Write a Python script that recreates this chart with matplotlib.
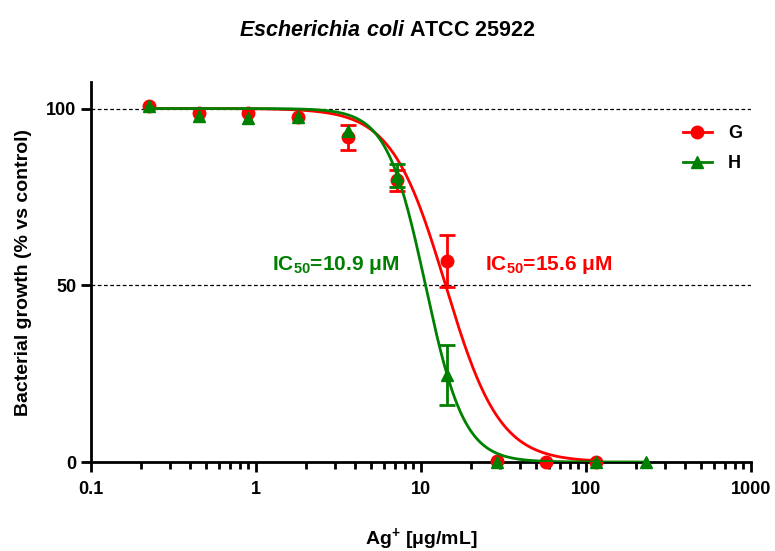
import numpy as np
import matplotlib
matplotlib.use("Agg")
import matplotlib.pyplot as plt
from matplotlib.ticker import LogLocator, FixedLocator, NullFormatter

plt.rcParams['font.family'] = ['Liberation Sans', 'DejaVu Sans']
plt.rcParams['font.weight'] = 'bold'
plt.rcParams['mathtext.fontset'] = 'custom'
plt.rcParams['mathtext.rm'] = 'Liberation Sans:bold'
plt.rcParams['mathtext.it'] = 'Liberation Sans:bold:italic'
plt.rcParams['mathtext.bf'] = 'Liberation Sans:bold'
plt.rcParams['mathtext.default'] = 'rm'

# concentrations (ug/mL)
conc_g = [0.225, 0.45, 0.9, 1.8, 3.6, 7.2, 14.4, 28.75, 57.5, 115]
conc_h = [0.225, 0.45, 0.9, 1.8, 3.6, 7.2, 14.4, 28.75, 115, 230]

growth_g = [100.8, 98.6, 98.6, 97.6, 91.8, 79.7, 56.8, 0.4, 0.0, 0.0]
err_g = [0.4, 0.4, 0.5, 0.4, 3.5, 3.0, 7.3, 0.3, 0.2, 0.2]
growth_h = [100.8, 98.0, 97.2, 97.7, 93.6, 81.0, 24.6, 0.0, 0.0, 0.0]
err_h = [0.3, 0.4, 0.5, 0.4, 1.0, 3.3, 8.5, 0.2, 0.2, 0.2]

# fitted dose-response parameters
ec50_g, hill_g = 14.1, 2.65
ec50_h, hill_h = 10.65, 3.7

red = '#ff0000'
green = '#008000'

fig = plt.figure(figsize=(7.75, 5.51), dpi=100)
ax = fig.add_axes([0.1174, 0.1615, 0.8516, 0.6897])


def curve(x, ec50, hill):
    return 100.0 / (1.0 + (x / ec50) ** hill)


def draw_series(x, y, e, color, marker, z):
    x, y, e = np.array(x), np.array(y), np.array(e)
    big = e > 1.5  # bars hidden behind the symbol are not drawn
    ax.errorbar(x[big], y[big], yerr=e[big], fmt='none', ecolor=color,
                capsize=6, capthick=2, elinewidth=2, zorder=z)
    ax.plot(x, y, ls='none', marker=marker, color=color, ms=9, zorder=z + 0.5,
            clip_on=False)


xg = np.logspace(np.log10(conc_g[0]), np.log10(conc_g[-1]), 400)
xh = np.logspace(np.log10(conc_h[0]), np.log10(conc_h[-1]), 400)

ax.axhline(100, color='black', ls=(0, (3, 2)), lw=0.9, zorder=1)
ax.axhline(50, color='black', ls=(0, (3, 2)), lw=0.9, zorder=1)

ax.plot(xg, curve(xg, ec50_g, hill_g), color=red, lw=2, zorder=2)
draw_series(conc_g, growth_g, err_g, red, 'o', 3)
ax.plot(xh, curve(xh, ec50_h, hill_h), color=green, lw=2, zorder=4)
draw_series(conc_h, growth_h, err_h, green, '^', 5)

h_g, = ax.plot([], [], color=red, marker='o', ms=9, lw=2, label='G')
h_h, = ax.plot([], [], color=green, marker='^', ms=9, lw=2, label='H')
ax.legend([h_g, h_h], ['G', 'H'], loc='upper left',
          bbox_to_anchor=(0.872, 0.93), frameon=False, fontsize=13,
          handlelength=1.6, labelspacing=0.75, handletextpad=0.9)

ax.text(0.371, 0.518, r'IC$_{50}$=10.9 μM', transform=ax.transAxes,
        color=green, fontsize=15, fontweight='bold', ha='center', va='center')
ax.text(0.694, 0.518, r'IC$_{50}$=15.6 μM', transform=ax.transAxes,
        color=red, fontsize=15, fontweight='bold', ha='center', va='center')

ax.set_xscale('log')
ax.set_xlim(0.1, 1000)
ax.set_ylim(0, 107.5)
ax.xaxis.set_major_locator(FixedLocator([0.1, 1, 10, 100, 1000]))
ax.set_xticklabels(['0.1', '1', '10', '100', '1000'])
ax.xaxis.set_minor_locator(LogLocator(base=10, subs=np.arange(2, 10)))
ax.xaxis.set_minor_formatter(NullFormatter())
ax.set_yticks([0, 50, 100])

for s in ['top', 'right']:
    ax.spines[s].set_visible(False)
for s in ['left', 'bottom']:
    ax.spines[s].set_linewidth(2)

ax.tick_params(axis='both', which='major', direction='out', length=7,
               width=2, labelsize=13)
ax.tick_params(axis='x', which='major', pad=7)
ax.tick_params(axis='x', which='minor', direction='out', length=5, width=2)
for lab in ax.get_xticklabels() + ax.get_yticklabels():
    lab.set_fontweight('bold')

ax.set_xlabel(r'Ag$^{+}$ [μg/mL]', fontsize=14, fontweight='bold', labelpad=20)
ax.set_ylabel('Bacterial growth (% vs control)', fontsize=14,
              fontweight='bold', labelpad=10)

fig.text(0.5, 0.945, r'$\it{Escherichia\ coli}$ ATCC 25922', ha='center',
         va='center', fontsize=15.5, fontweight='bold')

fig.savefig('out.png', dpi=100)
